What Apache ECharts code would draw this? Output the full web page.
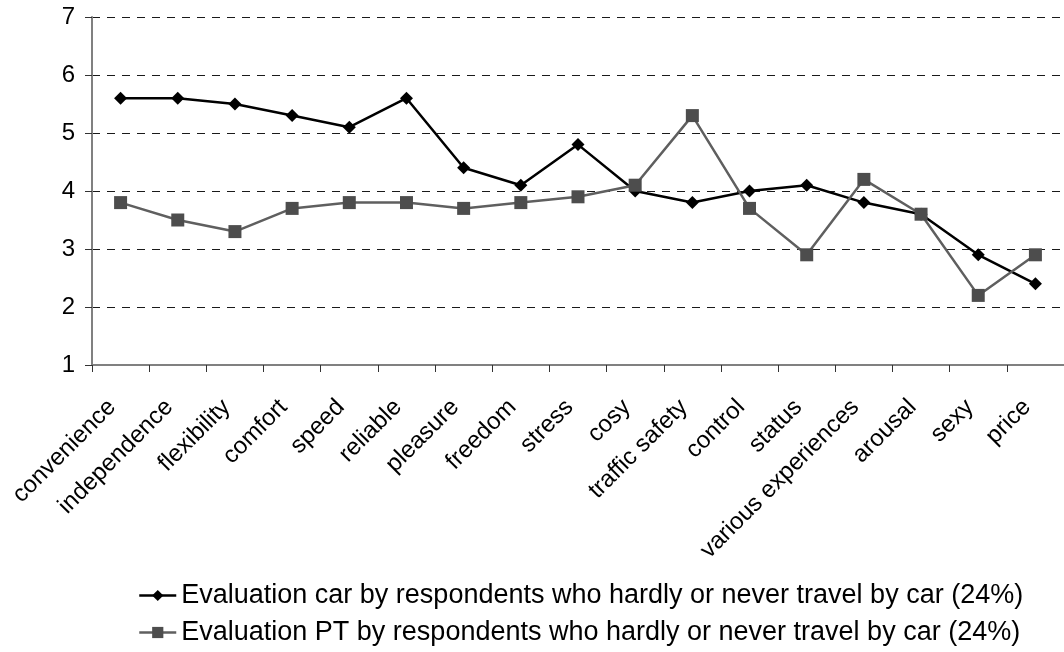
<!DOCTYPE html>
<html>
<head>
<meta charset="utf-8">
<script src="https://cdn.jsdelivr.net/npm/echarts@6/dist/echarts.min.js"></script>
<style>
  html, body { margin: 0; padding: 0; background: #ffffff; }
  #chart { width: 1064px; height: 652px; }
</style>
</head>
<body>
<div id="chart"></div>
<script>
// Attributes rated for each mode
const categories = [
  'convenience', 'independence', 'flexibility', 'comfort', 'speed', 'reliable',
  'pleasure', 'freedom', 'stress', 'cosy', 'traffic safety', 'control', 'status',
  'various experiences', 'arousal', 'sexy', 'price'
];

// Mean ratings for the car
const carValues = [5.6, 5.6, 5.5, 5.3, 5.1, 5.6, 4.4, 4.1, 4.8, 4.0, 3.8, 4.0, 4.1, 3.8, 3.6, 2.9, 2.4];

// Mean ratings for public transport
const ptValues = [3.8, 3.5, 3.3, 3.7, 3.8, 3.8, 3.7, 3.8, 3.9, 4.1, 5.3, 3.7, 2.9, 4.2, 3.6, 2.2, 2.9];

// Series names
const carName = 'Evaluation car by respondents who hardly or never travel by car (24%)';
const ptName = 'Evaluation PT by respondents who hardly or never travel by car (24%)';

const FONT = '"Liberation Sans", Arial, sans-serif';

const chart = echarts.init(document.getElementById('chart'), null, { renderer: 'canvas' });

chart.setOption({
  backgroundColor: '#ffffff',
  animation: false,
  textStyle: { fontFamily: FONT },
  grid: {
    left: 92,
    top: 17,
    width: 975,
    height: 348,
    containLabel: false
  },
  legend: {
    orient: 'vertical',
    left: 138,
    top: 582,
    padding: 0,
    itemWidth: 37,
    itemHeight: 14,
    itemGap: 10,
    lineStyle: { width: 2.5 },
    textStyle: { fontFamily: FONT, fontSize: 27, color: '#000000' },
    data: [carName, ptName]
  },
  xAxis: {
    type: 'category',
    data: categories,
    boundaryGap: true,
    axisLine: { lineStyle: { color: '#808080', width: 2 } },
    axisTick: { show: true, length: 7, lineStyle: { color: '#333333', width: 1 } },
    axisLabel: {
      interval: 0,
      rotate: 45,
      margin: 30,
      padding: [0, 12, 0, 0],
      fontFamily: FONT,
      fontSize: 24,
      color: '#000000'
    },
    splitLine: { show: false }
  },
  yAxis: {
    type: 'value',
    min: 1,
    max: 7,
    interval: 1,
    axisLine: { show: true, lineStyle: { color: '#808080', width: 2 } },
    axisTick: { show: true, length: 7, lineStyle: { color: '#333333', width: 1 } },
    axisLabel: {
      margin: 17,
      fontFamily: FONT,
      fontSize: 24,
      color: '#000000'
    },
    splitLine: {
      show: true,
      lineStyle: { color: '#1a1a1a', width: 1, type: [8, 7] }
    }
  },
  series: [
    {
      name: carName,
      type: 'line',
      data: carValues,
      symbol: 'diamond',
      symbolSize: 13,
      lineStyle: { color: '#000000', width: 2.5 },
      itemStyle: { color: '#000000' }
    },
    {
      name: ptName,
      type: 'line',
      data: ptValues,
      symbol: 'rect',
      symbolSize: 13,
      lineStyle: { color: '#5f5f5f', width: 2.5 },
      itemStyle: { color: '#4d4d4d' }
    }
  ]
});
</script>
</body>
</html>
